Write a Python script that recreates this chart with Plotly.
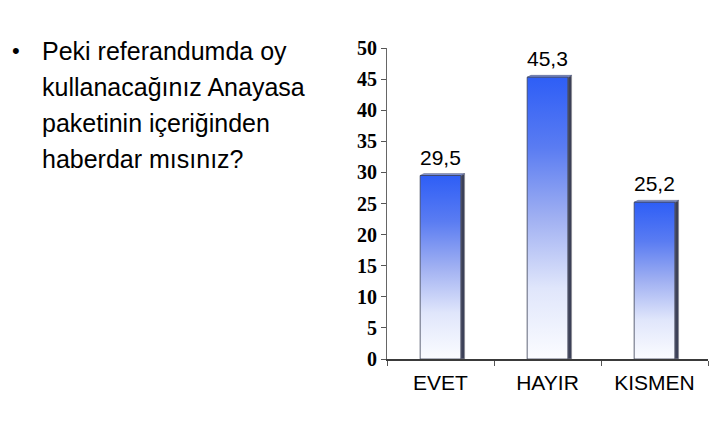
import plotly.graph_objects as go

categories = ["EVET", "HAYIR", "KISMEN"]
values = [29.5, 45.3, 25.2]
question_lines = [
    "Peki referandumda oy",
    "kullanacağınız Anayasa",
    "paketinin içeriğinden",
    "haberdar mısınız?",
]

# the page puts the figure 8px in from the top-left corner
OFF = 8
W, H = 726, 437
ML, MR, MT, MB = 387 - OFF, 18 + OFF, 48 - OFF, 78 + OFF
plot_w = W - ML - MR
plot_h = H - MT - MB

half = 0.19       # half width of the bar front, in category units
dx = 0.035        # depth of the 3d side
dy = 0.3          # rise of the 3d side

gradient = dict(
    type="vertical",
    colorscale=[[0, "#fbfcff"], [0.25, "#e0e6fb"], [0.5, "#a0b0f2"],
                [0.75, "#5a7cf2"], [1, "#2e5ef6"]],
)

fig = go.Figure()

for i, v in enumerate(values):
    # side face
    fig.add_trace(go.Scatter(
        x=[i + half, i + half + dx, i + half + dx, i + half, i + half],
        y=[0, 0, v + dy, v, 0],
        fill="toself", fillcolor="#3c4158", mode="lines",
        line=dict(color="#8a8a94", width=0.8),
        hoverinfo="skip", showlegend=False,
    ))
    # top face
    fig.add_trace(go.Scatter(
        x=[i - half, i + half, i + half + dx, i - half + dx, i - half],
        y=[v, v, v + dy, v + dy, v],
        fill="toself", fillcolor="#7f93d8", mode="lines",
        line=dict(color="#505a80", width=0.6),
        hoverinfo="skip", showlegend=False,
    ))
    # front face with gradient
    fig.add_trace(go.Scatter(
        x=[i - half, i + half, i + half, i - half, i - half],
        y=[0, 0, v, v, 0],
        fill="toself", fillgradient=gradient, mode="lines",
        line=dict(color="#3a3f55", width=0.8),
        name=categories[i], hoverinfo="skip", showlegend=False,
    ))


def px_to_paper(px, py):
    # page pixel -> paper coords
    return (px - OFF - ML) / plot_w, (H - MB - (py - OFF)) / plot_h


annotations = []
# value labels above the bars
for i, v in enumerate(values):
    annotations.append(dict(
        x=i, y=v, xref="x", yref="y", text=f"{v:.1f}".replace(".", ","),
        showarrow=False, xanchor="center", yanchor="bottom", yshift=5,
        font=dict(family="Liberation Sans, Arial", size=21, color="#000000"),
    ))

bx, by = px_to_paper(16, 50)
annotations.append(dict(
    x=bx, y=by, xref="paper", yref="paper", text="•", showarrow=False,
    xanchor="center", yanchor="middle",
    font=dict(family="Liberation Sans, Arial", size=22, color="#000000"),
))
for k, line in enumerate(question_lines):
    ax, ay = px_to_paper(40, 51 + 36 * k)
    annotations.append(dict(
        x=ax, y=ay, xref="paper", yref="paper", text=line, showarrow=False,
        xanchor="left", yanchor="middle",
        font=dict(family="Liberation Sans, Arial", size=25, color="#000000"),
    ))

fig.update_layout(
    width=W, height=H,
    margin=dict(l=ML, r=MR, t=MT, b=MB),
    paper_bgcolor="white", plot_bgcolor="white",
    annotations=annotations,
    xaxis=dict(
        range=[-0.5, 2.5],
        tickmode="array", tickvals=list(range(len(categories))), ticktext=categories,
        ticks="", showgrid=False, zeroline=False, ticklabelstandoff=4,
        showline=True, linecolor="#3a3a3a", linewidth=2,
        tickfont=dict(family="Liberation Sans, Arial", size=21, color="#000000"),
        minor=dict(ticks="outside", tickmode="array", tickvals=[-0.5, 0.5, 1.5, 2.5],
                   ticklen=5, tickcolor="#555555", showgrid=False),
        fixedrange=True,
    ),
    yaxis=dict(
        range=[0, 50], tickmode="linear", tick0=0, dtick=5,
        ticks="outside", ticklen=5, tickcolor="#555555",
        showgrid=False, zeroline=False,
        showline=True, linecolor="#666666", linewidth=1,
        tickfont=dict(family="Liberation Serif, Times New Roman", size=20,
                      color="#000000", weight="bold"),
        fixedrange=True,
    ),
)

fig.write_html("out.html")
